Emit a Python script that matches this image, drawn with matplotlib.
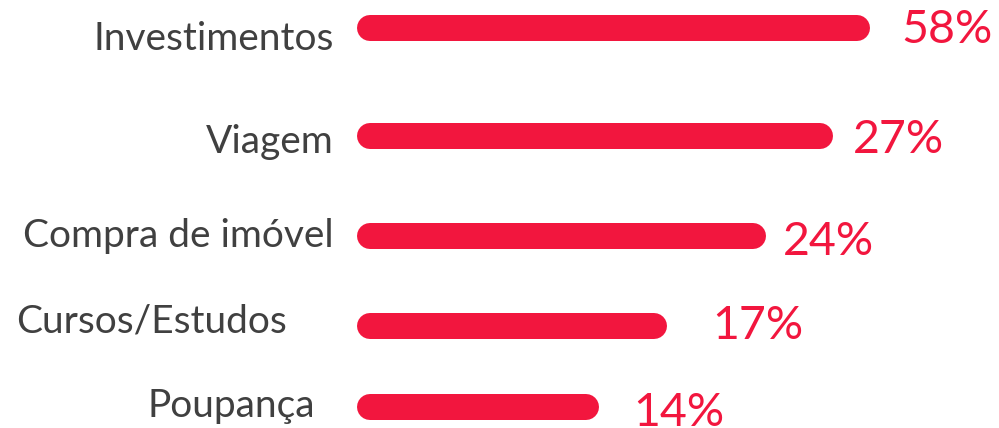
import matplotlib
matplotlib.use("Agg")
import matplotlib.pyplot as plt

# ---- data ----
categories = ["Investimentos", "Viagem", "Compra de imóvel", "Cursos/Estudos", "Poupança"]
percent_labels = ["58%", "27%", "24%", "17%", "14%"]
bar_lengths = [100, 92.8, 79.7, 60.4, 47.2]  # relative bar lengths as drawn in the graphic

# ---- layout ----
W, H, DPI = 999, 428, 100
row_y = [28, 136, 236, 326, 407]      # row centres (px from top)
bar_px = 26                            # bar thickness in px
start_px = 357                         # left edge of bars
unit_px = 5.13                         # px per length unit
label_gap = [23, 23, 23, 70, 42]       # bar start -> label right edge
label_dy = [22, 17, 11, 7, 10]         # label baseline below row centre
pct_gap = [31, 20, 17, 45, 34]         # bar end -> percent left edge
pct_dy = [15, 17, 19, 13, 19]          # percent baseline below row centre

RED = "#F2163E"
GREY = "#404040"
FONT = ["Lato", "DejaVu Sans"]

fig = plt.figure(figsize=(W / DPI, H / DPI), dpi=DPI)
ax = fig.add_axes([0, 0, 1, 1])
ax.set_xlim(-start_px / unit_px, (W - start_px) / unit_px)
ax.set_ylim(H, 0)
ax.axis("off")

cap = (bar_px / 2) / unit_px
lw = bar_px * 72 / DPI
for i, (cat, lab, L) in enumerate(zip(categories, percent_labels, bar_lengths)):
    y = row_y[i]
    ax.plot([cap, L - cap], [y, y], color=RED, lw=lw, solid_capstyle="round")
    ax.annotate(cat, xy=(0, y), xytext=(-label_gap[i], -label_dy[i]),
                textcoords="offset pixels", ha="right", va="baseline",
                fontsize=28, color=GREY, family=FONT)
    ax.annotate(lab, xy=(L, y), xytext=(pct_gap[i], -pct_dy[i]),
                textcoords="offset pixels", ha="left", va="baseline",
                fontsize=33.5, color=RED, family=FONT)

fig.savefig("out.png", dpi=DPI)
